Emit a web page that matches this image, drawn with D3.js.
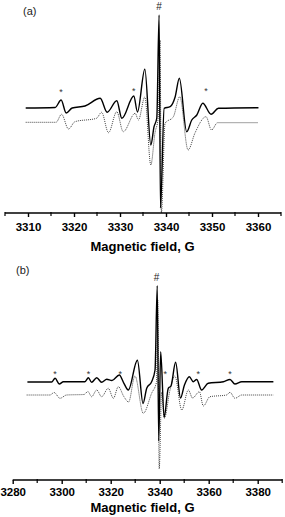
<!DOCTYPE html>
<html>
<head>
<meta charset="utf-8">
<script src="https://cdn.jsdelivr.net/npm/d3@7"></script>
<style>
  body { margin: 0; background: #fff; }
  svg { display: block; }
  text { font-family: "Liberation Sans", Arial, sans-serif; }
  .tick text { font-weight: bold; font-size: 11.5px; }
</style>
</head>
<body>
<svg width="285" height="517"></svg>
<script>
// ---- panel (a) spectra: [field G, intensity a.u.] ----
var solidA = [
  [3309.5, 0], [3315.9, 0.5], [3317.2, 8], [3318.3, -5], [3319.6, 0],
  [3322.4, 2], [3325.7, 9.7], [3327.2, -4.3], [3329.3, 7.3], [3330.4, -10.3],
  [3333.0, 12], [3333.8, -4], [3335.4, 38.7], [3336.7, -37], [3337.4, -18.7],
  [3338.0, -10], [3338.5, 93], [3338.8, -100], [3339.6, -0.3], [3340.9, 1.3],
  [3342.0, 11.3], [3342.9, 29.7], [3344.5, -23.7], [3345.6, -12], [3346.7, -7],
  [3348.0, 4.7], [3349.8, -6.3], [3351.4, -0.3], [3360.1, 0.3]
];
var dottedA = [
  [3309.5, -14.3], [3316.1, -14.3], [3317.3, -6.3], [3318.8, -21], [3320.2, -13.7],
  [3324.9, -10.3], [3326.0, -4.3], [3327.5, -24.7], [3329.3, -3.7], [3330.7, -23.7],
  [3333.3, -5.3], [3334.0, -12], [3335.4, 11], [3336.7, -57], [3337.6, -25],
  [3338.3, -10], [3338.7, 68], [3339.0, -105], [3339.8, -15.3], [3341.6, -8.7],
  [3343.0, 11.3], [3344.8, -42], [3346.3, -25], [3348.7, -8.7], [3349.9, -22],
  [3351.2, -14.7], [3360.1, -14.7]
];
var starsA = [[3317.2, 13], [3333.0, 14], [3348.7, 14]];
var hashA = [3338.5, 98];
var majorA = [3310, 3320, 3330, 3340, 3350, 3360];
var minorA = [3305, 3315, 3325, 3335, 3345, 3355, 3365];

// ---- panel (b) spectra ----
var solidB = [
  [3286.0, 0], [3295.9, 0], [3297.3, 3.7], [3299.0, -2], [3300.7, 0.3],
  [3309.5, 0.3], [3310.9, 4.3], [3312.2, -0.3], [3314.3, 4.3], [3316.3, -0.3],
  [3318.4, 2.7], [3320.5, 1.5], [3323.5, 7], [3325.4, -1.3], [3327.2, -8],
  [3330.9, 21.7], [3333.2, -21.5], [3334.7, -6.3], [3336.7, 0.3], [3338.1, 12],
  [3339.0, 96.3], [3339.6, -59], [3340.4, 30.3], [3341.8, -35.5], [3343.5, -6.3],
  [3344.6, -4], [3346.5, 19.7], [3348.5, -16], [3350.1, -3], [3352.1, 5.3],
  [3353.7, 0.3], [3355.1, 2.5], [3357.1, -8], [3359.8, -1.3], [3366.0, 0.3],
  [3368.7, 2.5], [3370.7, -2], [3373.5, 0.3], [3386.4, 0.3]
];
var dottedB = [
  [3285.7, -13], [3295.2, -13], [3296.9, -10.5], [3299.3, -16.3], [3302.0, -13],
  [3309.1, -12.5], [3310.7, -9.5], [3312.2, -14.7], [3314.3, -8], [3316.3, -14.7],
  [3319.0, -6.3], [3321.1, -16.3], [3323.1, -4.7], [3325.4, -14.7], [3327.3, -20],
  [3329.9, 6], [3333.3, -31.3], [3336.7, -11.3], [3338.7, 0], [3339.2, 82],
  [3339.8, -87], [3340.8, -10], [3341.9, -36.3], [3344.2, -8], [3346.2, 6],
  [3349.0, -28], [3351.7, -8], [3353.4, -16], [3356.2, -9.7], [3357.8, -24],
  [3360.5, -14.7], [3367.3, -13], [3368.7, -10.3], [3370.7, -16.3], [3373.5, -13],
  [3386.4, -13]
];
var starsB = [[3297.3, 5.5], [3310.9, 5.5], [3323.9, 5.5], [3342.3, 5], [3355.7, 5.5], [3368.7, 5.5]];
var hashB = [3338.7, 101.5];
var majorB = [3280, 3300, 3320, 3340, 3360, 3380];
var minorB = [3290, 3310, 3330, 3350, 3370, 3390];

var svg = d3.select("svg");

function drawPanel(p){
  var x = d3.scaleLinear().domain(p.xDomain).range(p.xRange);
  var y = d3.scaleLinear().domain(p.yDomain).range(p.yRange);
  var g = svg.append("g");

  var line = d3.line()
    .x(d => x(d[0]))
    .y(d => y(d[1]))
    .curve(d3.curveMonotoneX);

  g.append("path")
    .attr("d", line(p.dotted))
    .attr("fill", "none")
    .attr("stroke", "#444")
    .attr("stroke-width", 1)
    .attr("stroke-dasharray", "1,1");

  g.append("path")
    .attr("d", line(p.solid))
    .attr("fill", "none")
    .attr("stroke", "#000")
    .attr("stroke-width", 1.4);

  //x axis, major + minor ticks
  var axisY = y(p.yDomain[0]);
  var ax = g.append("g")
    .attr("transform", `translate(0, ${axisY})`)
    .call(d3.axisBottom(x).tickValues(p.major).tickSize(4).tickSizeOuter(0)
      .tickPadding(p.tickPad).tickFormat(d3.format("d")));
  ax.select(".domain").remove();
  ax.selectAll(".tick line").attr("stroke-width", 1.4);

  g.append("g")
    .attr("transform", `translate(0, ${axisY})`)
    .selectAll("line")
    .data(p.minor)
    .enter()
    .append("line")
      .attr("x1", d => x(d)).attr("x2", d => x(d))
      .attr("y1", -1).attr("y2", 3)
      .attr("stroke", "#000")
      .attr("stroke-width", 1.2);

  g.append("line")
    .attr("x1", x(p.xDomain[0])).attr("x2", x(p.xDomain[1]))
    .attr("y1", axisY).attr("y2", axisY)
    .attr("stroke", "#000").attr("stroke-width", 1.6);

  g.append("text")
    .attr("x", 142.5)
    .attr("y", axisY + p.titleOffset)
    .style("text-anchor", "middle")
    .style("font-weight", "bold")
    .style("font-size", "13px")
    .text("Magnetic field, G");

  g.append("text")
    .attr("x", p.labelPos[0])
    .attr("y", p.labelPos[1])
    .style("font-size", "11px")
    .style("fill", "#222")
    .text(p.label);

  g.selectAll(".star")
    .data(p.stars)
    .enter()
    .append("text")
      .attr("x", d => x(d[0]))
      .attr("y", d => y(d[1]))
      .style("text-anchor", "middle")
      .style("font-size", "9px")
      .style("fill", "#333")
      .text("*");

  g.append("text")
    .attr("x", x(p.hash[0]))
    .attr("y", y(p.hash[1]))
    .style("text-anchor", "middle")
    .style("font-size", "10px")
    .style("fill", "#222")
    .text("#");
}

drawPanel({
  solid: solidA, dotted: dottedA, stars: starsA, hash: hashA,
  major: majorA, minor: minorA,
  xDomain: [3305, 3365], xRange: [5, 281],
  yDomain: [-105, 93], yRange: [213, 15],
  tickPad: 6, titleOffset: 37.5,
  label: "(a)", labelPos: [23, 15]
});

drawPanel({
  solid: solidB, dotted: dottedB, stars: starsB, hash: hashB,
  major: majorB, minor: minorB,
  xDomain: [3280, 3390], xRange: [12.7, 282.2],
  yDomain: [-98, 96.3], yRange: [480, 285.7],
  tickPad: 4, titleOffset: 32,
  label: "(b)", labelPos: [16, 274]
});
</script>
</body>
</html>
